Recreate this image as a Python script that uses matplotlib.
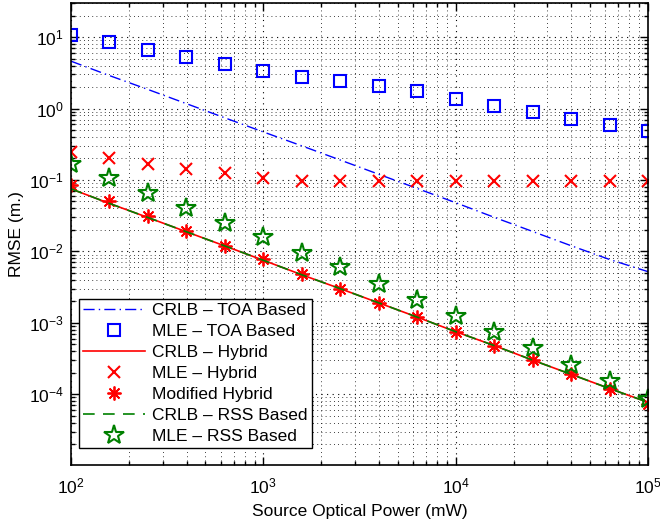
'''RMSE versus source optical power for TOA, hybrid and RSS based localisation.'''

import numpy as np
import matplotlib
matplotlib.use('Agg')
import matplotlib.pyplot as plt
from matplotlib.ticker import LogLocator, NullFormatter

plt.rcParams['font.family'] = ['Liberation Sans', 'DejaVu Sans']
plt.rcParams['mathtext.fontset'] = 'custom'
plt.rcParams['mathtext.rm'] = 'Liberation Sans'
plt.rcParams['mathtext.it'] = 'Liberation Sans'
plt.rcParams['mathtext.default'] = 'regular'

# source optical power (mW), 16 points, 0.2 decade apart
power = [100, 158, 251, 398, 631, 1000, 1585, 2512, 3981, 6310,
         10000, 15849, 25119, 39811, 63096, 100000]

crlb_toa = [4.6, 2.9, 1.85, 1.17, 0.74, 0.47, 0.30, 0.19, 0.12, 0.076,
            0.048, 0.030, 0.019, 0.012, 0.0077, 0.0052]
mle_toa = [10.8, 8.5, 6.7, 5.3, 4.2, 3.4, 2.8, 2.45, 2.05, 1.74,
           1.37, 1.10, 0.89, 0.72, 0.58, 0.48]
crlb_hybrid = [0.075, 0.047, 0.0298, 0.0188, 0.0119, 0.0075, 0.0047, 0.0030,
               0.0019, 0.0012, 0.00075, 0.00048, 0.00030, 0.00019, 0.00012, 0.000077]
mle_hybrid = [0.25, 0.206, 0.168, 0.143, 0.126, 0.107, 0.098, 0.098, 0.098, 0.098,
              0.098, 0.098, 0.098, 0.098, 0.098, 0.098]
modified_hybrid = [0.086, 0.050, 0.031, 0.019, 0.012, 0.0077, 0.0048, 0.0030,
                   0.0019, 0.0012, 0.00075, 0.00047, 0.00030, 0.00019, 0.00012, 0.000073]
crlb_rss = [0.075, 0.047, 0.0298, 0.0188, 0.0119, 0.0075, 0.0047, 0.0030,
            0.0019, 0.0012, 0.00075, 0.00048, 0.00030, 0.00019, 0.00012, 0.000077]
mle_rss = [0.168, 0.106, 0.065, 0.041, 0.025, 0.0159, 0.0095, 0.0060, 0.0035, 0.0021,
           0.00126, 0.00074, 0.00044, 0.00026, 0.000155, 0.000086]

blue = '#0000ff'
red = '#ff0000'
green = '#008000'
fs = 12.5

fig = plt.figure(figsize=(6.6, 5.22), dpi=100)
ax = fig.add_axes([0.1076, 0.1092, 0.8742, 0.885])

ax.loglog(power, crlb_toa, linestyle=(0, (8, 3, 1, 3)), color=blue, lw=1.0,
          label='CRLB – TOA Based')
ax.loglog(power, mle_toa, 's', mfc='none', mec=blue, ms=8, mew=1.5, ls='none',
          label='MLE – TOA Based')
ax.loglog(power, crlb_hybrid, '-', color=red, lw=1.2, label='CRLB – Hybrid')
ax.loglog(power, mle_hybrid, 'x', color=red, ms=8, mew=1.5, ls='none',
          label='MLE – Hybrid')
# matlab style asterisk: 8 spokes
ax.loglog(power, modified_hybrid, marker=(8, 2, 0), color=red, ms=10, mew=1.3,
          ls='none', label='Modified Hybrid')
ax.loglog(power, crlb_rss, '--', color=green, lw=1.2, dashes=(7, 5),
          label='CRLB – RSS Based')
ax.loglog(power, mle_rss, '*', mfc='none', mec=green, ms=15, mew=1.5, ls='none',
          label='MLE – RSS Based')

ax.set_xlim(100, 1e5)
ax.set_ylim(1.02e-5, 30)

ax.xaxis.set_major_locator(LogLocator(base=10, numticks=10))
ax.xaxis.set_minor_locator(LogLocator(base=10, subs=np.arange(2, 10), numticks=10))
ax.yaxis.set_major_locator(LogLocator(base=10, numticks=12))
ax.yaxis.set_minor_locator(LogLocator(base=10, subs=np.arange(2, 10), numticks=12))
ax.xaxis.set_minor_formatter(NullFormatter())
ax.yaxis.set_minor_formatter(NullFormatter())

ax.grid(True, which='major', linestyle=(0, (1, 4)), color='black', lw=0.8)
ax.grid(True, which='minor', linestyle=(0, (1, 4)), color='black', lw=0.6)
ax.tick_params(which='both', direction='in', top=True, right=True,
               labelsize=fs, width=1.0)
ax.tick_params(which='major', length=6)
ax.tick_params(which='minor', length=3)
ax.tick_params(axis='x', which='major', pad=8)
ax.tick_params(axis='y', which='major', pad=5)
for s in ax.spines.values():
    s.set_linewidth(1.2)

ax.set_xlabel('Source Optical Power (mW)', fontsize=fs, labelpad=6)
ax.set_ylabel('RMSE (m.)', fontsize=fs, labelpad=4)

leg = ax.legend(loc='lower left', bbox_to_anchor=(0.014, 0.037, 0.404, 0.316),
                mode='expand', fontsize=fs, handlelength=3.6, handletextpad=0.4,
                labelspacing=0.34, borderaxespad=0, borderpad=0.2,
                fancybox=False, framealpha=1, edgecolor='black')
leg.get_frame().set_linewidth(1.0)

fig.savefig('out.png', dpi=100)
